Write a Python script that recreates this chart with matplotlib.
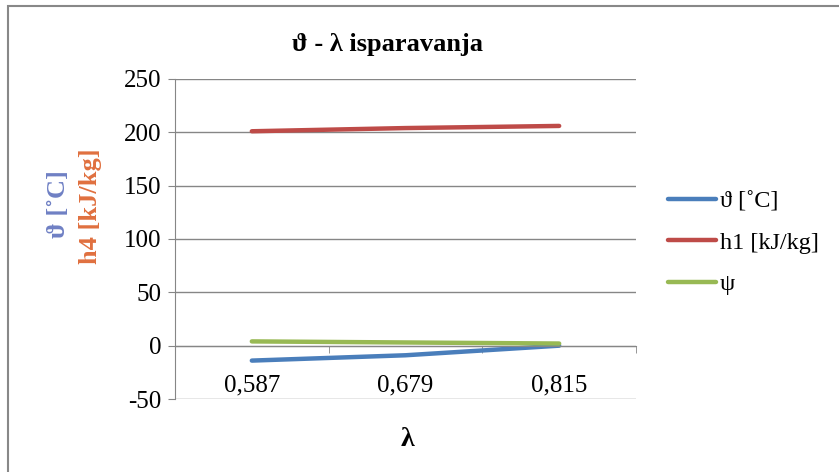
import matplotlib
matplotlib.use('Agg')
import matplotlib.pyplot as plt
from matplotlib.patches import Rectangle
import numpy as np

plt.rcParams['font.family'] = ['Liberation Serif', 'DejaVu Serif']
plt.rcParams['axes.unicode_minus'] = False

categories = ['0,587', '0,679', '0,815']
theta = [-14, -9, 0]
h1 = [201, 204, 206]
psi = [4, 3, 2]

series_labels = ['ϑ [˚C]', 'h1 [kJ/kg]', 'ψ']
colors = ['#4a7ebb', '#be4b48', '#98b954']

fig = plt.figure(figsize=(8.39, 4.72), dpi=100)
ax = fig.add_axes([175/839, 1-399/472, (636-175)/839, (399-79)/472])

x = np.arange(len(categories))
for vals, lab, col in zip([theta, h1, psi], series_labels, colors):
    ax.plot(x, vals, color=col, lw=3.2, label=lab, solid_capstyle='round')

ax.set_xlim(-0.5, 2.5)
ax.set_ylim(-50, 250)
ax.set_yticks(np.arange(-50, 251, 50))
ax.yaxis.grid(True, color='#868686', lw=1)
ax.set_axisbelow(True)

for s in ['top', 'right']:
    ax.spines[s].set_visible(False)
ax.spines['left'].set_color('#868686')
ax.spines['bottom'].set_color('#868686')
ax.spines['bottom'].set_position(('data', 0))

ax.set_xticks(x)
ax.set_xticklabels(categories)
ax.set_xticks(np.arange(0.5, 3, 1), minor=True)
ax.tick_params(axis='x', which='major', length=0, pad=21, labelsize=18)
ax.tick_params(axis='x', which='minor', length=5, color='#868686', direction='out')
ax.tick_params(axis='y', length=5, color='#868686', labelsize=18, pad=5)

fig.text(388/839, 1-45/472, 'ϑ - λ isparavanja', ha='center', va='center',
         fontsize=19, fontweight='bold')
fig.text(407/839, 1-440/472, 'λ', ha='center', va='center',
         fontsize=20, fontweight='bold')
fig.text(58/839, 1-204/472, 'ϑ [˚C]', rotation=90, ha='center', va='center',
         fontsize=19, fontweight='bold', color='#6f80c4')
fig.text(90/839, 1-206/472, 'h4 [kJ/kg]', rotation=90, ha='center', va='center',
         fontsize=19, fontweight='bold', color='#e0703f')

ax.legend(loc='center left', bbox_to_anchor=(646/839, 1-243/472),
          bbox_transform=fig.transFigure, frameon=False, fontsize=17.5,
          handlelength=2.0, handletextpad=0.15, labelspacing=0.8)

fig.patches.append(Rectangle((8/839, -0.1), 1.2, 1.1 - 6/472, transform=fig.transFigure,
                             fill=False, edgecolor='#888888', lw=1.5))

fig.savefig('out.png', dpi=100)
